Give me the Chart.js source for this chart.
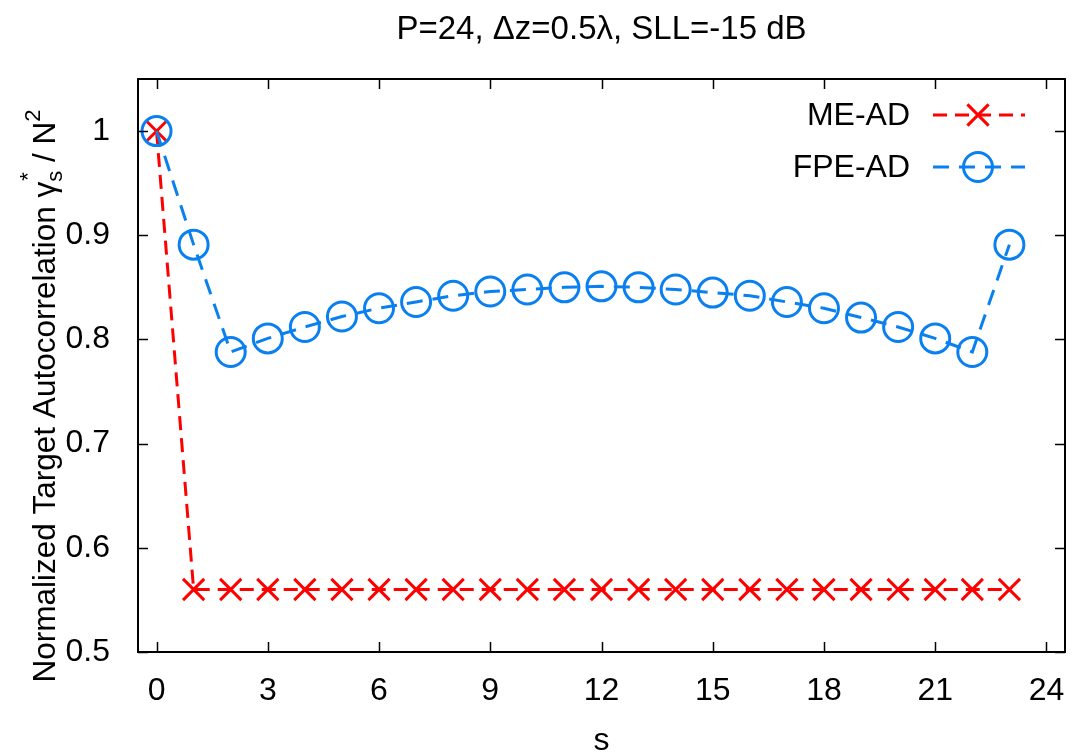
<!DOCTYPE html>
<html>
<head>
<meta charset="utf-8">
<script src="https://cdn.jsdelivr.net/npm/chart.js@4/dist/chart.umd.min.js"></script>
<style>
  html, body { margin: 0; padding: 0; background: #fff; }
  #wrap { width: 1074px; height: 754px; position: relative; }
</style>
</head>
<body>
<div id="wrap"><canvas id="chart"></canvas></div>
<script>
/* =========================
   DATA
========================= */
const lags = [0, 1, 2, 3, 4, 5, 6, 7, 8, 9, 10, 11, 12, 13, 14, 15, 16, 17, 18, 19, 20, 21, 22, 23];
const meAd = [1.0, 0.56, 0.56, 0.56, 0.56, 0.56, 0.56, 0.56, 0.56, 0.56, 0.56, 0.56,
              0.56, 0.56, 0.56, 0.56, 0.56, 0.56, 0.56, 0.56, 0.56, 0.56, 0.56, 0.56];
const fpeAd = [1.0, 0.891, 0.788, 0.801, 0.812, 0.822, 0.830, 0.836, 0.842, 0.846, 0.848, 0.850,
               0.851, 0.850, 0.848, 0.845, 0.842, 0.836, 0.830, 0.821, 0.812, 0.801, 0.788, 0.891];
const xTicks = [0, 3, 6, 9, 12, 15, 18, 21, 24];
const yTicks = [0.5, 0.6, 0.7, 0.8, 0.9, 1.0];

const RED = "#ff0000";
const BLUE = "#0a80f0";
const FONT = "'Liberation Sans', Arial, Helvetica, sans-serif";

// the scales should not push the plot frame inwards for their end labels
const noPadding = () => ({ left: 0, top: 0, right: 0, bottom: 0 });

/* =========================
   PLUGIN: frame, ticks, titles, legend
========================= */
const gnuFrame = {
  id: "gnuFrame",
  afterDatasetsDraw(chart) {
    const ctx = chart.ctx;
    const a = chart.chartArea;
    const sx = chart.scales.x;
    const sy = chart.scales.y;
    ctx.save();
    ctx.strokeStyle = "#000";
    ctx.lineWidth = 2;
    ctx.strokeRect(a.left, a.top, a.right - a.left, a.bottom - a.top);

    ctx.lineWidth = 1.5;
    ctx.beginPath();
    xTicks.forEach(v => {
      const px = Math.round(sx.getPixelForValue(v)) + 0.5;
      ctx.moveTo(px, a.bottom); ctx.lineTo(px, a.bottom - 10);
      ctx.moveTo(px, a.top); ctx.lineTo(px, a.top + 10);
    });
    yTicks.forEach(v => {
      const py = Math.round(sy.getPixelForValue(v)) + 0.5;
      ctx.moveTo(a.left, py); ctx.lineTo(a.left + 10, py);
      ctx.moveTo(a.right, py); ctx.lineTo(a.right - 10, py);
    });
    ctx.stroke();

    // title
    ctx.fillStyle = "#000";
    ctx.textAlign = "center";
    ctx.textBaseline = "alphabetic";
    ctx.font = "33px " + FONT;
    ctx.fillText("P=24, \u0394z=0.5\u03bb, SLL=-15 dB", (a.left + a.right) / 2, 39);

    // x title
    ctx.font = "32px " + FONT;
    ctx.fillText("s", (a.left + a.right) / 2, 750);

    // y title with sub/superscripts
    ctx.save();
    ctx.translate(55, 396);
    ctx.rotate(-Math.PI / 2);
    ctx.textAlign = "left";
    const parts = [
      { t: "Normalized Target Autocorrelation \u03b3", size: 31.5, dy: 0 },
      { t: "s", size: 22, dy: 7, sup: "*" },
      { t: " / N", size: 31.5, dy: 0 },
      { t: "2", size: 22, dy: -15 }
    ];
    let total = 0;
    parts.forEach(p => { ctx.font = p.size + "px " + FONT; p.w = ctx.measureText(p.t).width; total += p.w; });
    let cx = -total / 2;
    parts.forEach(p => {
      ctx.font = p.size + "px " + FONT;
      ctx.fillText(p.t, cx, p.dy);
      if (p.sup) ctx.fillText(p.sup, cx + 1, -20);
      cx += p.w;
    });
    ctx.restore();

    // legend
    const items = [
      { label: "ME-AD", color: RED, style: "crossRot", dash: [14, 8], y: 115 },
      { label: "FPE-AD", color: BLUE, style: "circle", dash: [16, 10], y: 167 }
    ];
    ctx.font = "32px " + FONT;
    ctx.textAlign = "right";
    ctx.textBaseline = "middle";
    items.forEach(it => {
      ctx.fillStyle = "#000";
      ctx.fillText(it.label, 910, it.y + 1);
      ctx.strokeStyle = it.color;
      ctx.lineWidth = 3;
      ctx.setLineDash(it.dash);
      ctx.beginPath();
      ctx.moveTo(933, it.y); ctx.lineTo(1025, it.y);
      ctx.stroke();
      ctx.setLineDash([]);
      ctx.fillStyle = "rgba(0,0,0,0)";
      ctx.lineWidth = 3;
      Chart.helpers.drawPoint(ctx, { pointStyle: it.style, radius: it.style === "circle" ? 14.5 : 15, rotation: 0, borderWidth: 3 }, 978, it.y);
    });
    ctx.restore();
  }
};

/* =========================
   CHART
========================= */
const ctx = document.getElementById("chart");

new Chart(ctx, {
  type: "line",
  data: {
    labels: lags,
    datasets: [
      {
        label: "ME-AD",
        data: lags.map((s, i) => ({ x: s, y: meAd[i] })),
        order: 2,
        borderColor: RED,
        backgroundColor: "transparent",
        borderWidth: 3,
        borderDash: [14, 8],
        pointStyle: "crossRot",
        pointRadius: 15,
        pointBorderWidth: 3,
        pointBorderColor: RED,
        tension: 0
      },
      {
        label: "FPE-AD",
        data: lags.map((s, i) => ({ x: s, y: fpeAd[i] })),
        order: 1,
        borderColor: BLUE,
        backgroundColor: "transparent",
        borderWidth: 3,
        borderDash: [16, 10],
        pointStyle: "circle",
        pointRadius: 14.5,
        pointBorderWidth: 3,
        pointBorderColor: BLUE,
        pointBackgroundColor: "transparent",
        tension: 0
      }
    ]
  },
  options: {
    responsive: true,
    maintainAspectRatio: false,
    animation: false,
    layout: { autoPadding: false, padding: { top: 79, right: 9, left: 0, bottom: 0 } },
    plugins: {
      legend: { display: false },
      title: { display: false },
      tooltip: { enabled: false }
    },
    scales: {
      x: {
        type: "linear",
        min: -0.5,
        max: 24.5,
        grid: { display: false },
        border: { display: false },
        afterBuildTicks: scale => { scale.ticks = xTicks.map(v => ({ value: v })); },
        afterFit: scale => {
          scale.height = 102;
          scale.paddingLeft = 0;
          scale.paddingRight = 0;
          scale.getPadding = noPadding;
        },
        ticks: {
          color: "#000",
          font: { family: FONT, size: 32 },
          padding: 12,
          maxRotation: 0,
          autoSkip: false
        }
      },
      y: {
        min: 0.5,
        max: 1.05,
        grid: { display: false },
        border: { display: false },
        afterBuildTicks: scale => { scale.ticks = yTicks.map(v => ({ value: v })); },
        afterFit: scale => {
          scale.width = 138;
          scale.paddingTop = 0;
          scale.paddingBottom = 0;
          scale.getPadding = noPadding;
        },
        ticks: {
          color: "#000",
          font: { family: FONT, size: 32 },
          padding: 20,
          autoSkip: false,
          callback: v => String(+Number(v).toFixed(1))
        }
      }
    }
  },
  plugins: [gnuFrame]
});
</script>
</body>
</html>
